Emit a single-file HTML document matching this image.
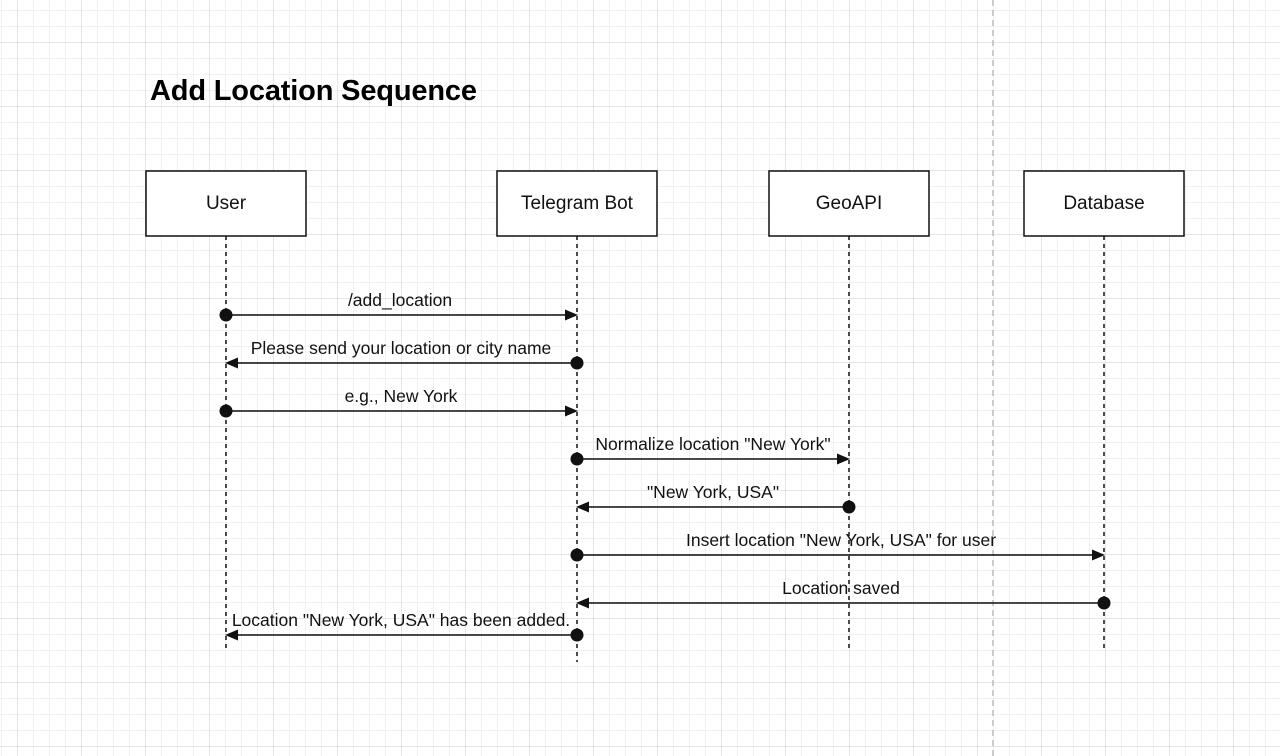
<!DOCTYPE html>
<html><head><style>body{margin:0;background:#fff}svg{display:block}</style></head><body>
<svg width="1280" height="756" xmlns="http://www.w3.org/2000/svg" font-family="Liberation Sans, Arial, sans-serif">
<defs>
<pattern id="mi" x="1" y="10" width="16" height="16" patternUnits="userSpaceOnUse"><path d="M0 0H16M0 0V16" stroke="#e3e3e3" stroke-width="1" fill="none"/></pattern>
<pattern id="ma" x="17" y="42" width="64" height="64" patternUnits="userSpaceOnUse"><path d="M0 0H64M0 0V64" stroke="#cbcbcb" stroke-width="1" fill="none"/></pattern>
</defs>
<rect width="1280" height="756" fill="url(#mi)"/>
<rect width="1280" height="756" fill="url(#ma)"/>
<line x1="993" y1="0" x2="993" y2="756" stroke="#bbb" stroke-width="1.5" stroke-dasharray="6 4"/>
<text x="150" y="100" font-size="29" font-weight="bold" textLength="327">Add Location Sequence</text>
<g fill="#fff" stroke="#111" stroke-width="1.5">
<rect x="146" y="171" width="160" height="65"/><rect x="497" y="171" width="160" height="65"/>
<rect x="769" y="171" width="160" height="65"/><rect x="1024" y="171" width="160" height="65"/>
</g>
<g font-size="19" text-anchor="middle" fill="#111">
<text x="226" y="209">User</text><text x="577" y="209">Telegram Bot</text>
<text x="849" y="209">GeoAPI</text><text x="1104" y="209">Database</text>
</g>
<g stroke="#111" stroke-width="1.5" stroke-dasharray="4 4">
<line x1="226" y1="236" x2="226" y2="650"/><line x1="577" y1="236" x2="577" y2="662"/>
<line x1="849" y1="236" x2="849" y2="650"/><line x1="1104" y1="236" x2="1104" y2="650"/>
</g>
<g stroke="#111" stroke-width="1.5">
<line x1="226" y1="315" x2="566" y2="315"/><line x1="577" y1="363" x2="238" y2="363"/>
<line x1="226" y1="411" x2="566" y2="411"/><line x1="577" y1="459" x2="838" y2="459"/>
<line x1="849" y1="507" x2="589" y2="507"/><line x1="577" y1="555" x2="1093" y2="555"/>
<line x1="1104" y1="603" x2="589" y2="603"/><line x1="577" y1="635" x2="238" y2="635"/>
</g>
<g fill="#111">
<circle cx="226" cy="315" r="6.5"/><path d="M578 315l-13-5.5v11z"/>
<circle cx="577" cy="363" r="6.5"/><path d="M225 363l13-5.5v11z"/>
<circle cx="226" cy="411" r="6.5"/><path d="M578 411l-13-5.5v11z"/>
<circle cx="577" cy="459" r="6.5"/><path d="M850 459l-13-5.5v11z"/>
<circle cx="849" cy="507" r="6.5"/><path d="M576 507l13-5.5v11z"/>
<circle cx="577" cy="555" r="6.5"/><path d="M1105 555l-13-5.5v11z"/>
<circle cx="1104" cy="603" r="6.5"/><path d="M576 603l13-5.5v11z"/>
<circle cx="577" cy="635" r="6.5"/><path d="M225 635l13-5.5v11z"/>
</g>
<g font-size="17.5" text-anchor="middle" fill="#111">
<text x="400" y="306">/add_location</text>
<text x="401" y="354">Please send your location or city name</text>
<text x="401" y="402">e.g., New York</text>
<text x="713" y="450">Normalize location "New York"</text>
<text x="713" y="498">"New York, USA"</text>
<text x="841" y="546">Insert location "New York, USA" for user</text>
<text x="841" y="594">Location saved</text>
<text x="401" y="626">Location "New York, USA" has been added.</text>
</g>
</svg>
</body></html>
